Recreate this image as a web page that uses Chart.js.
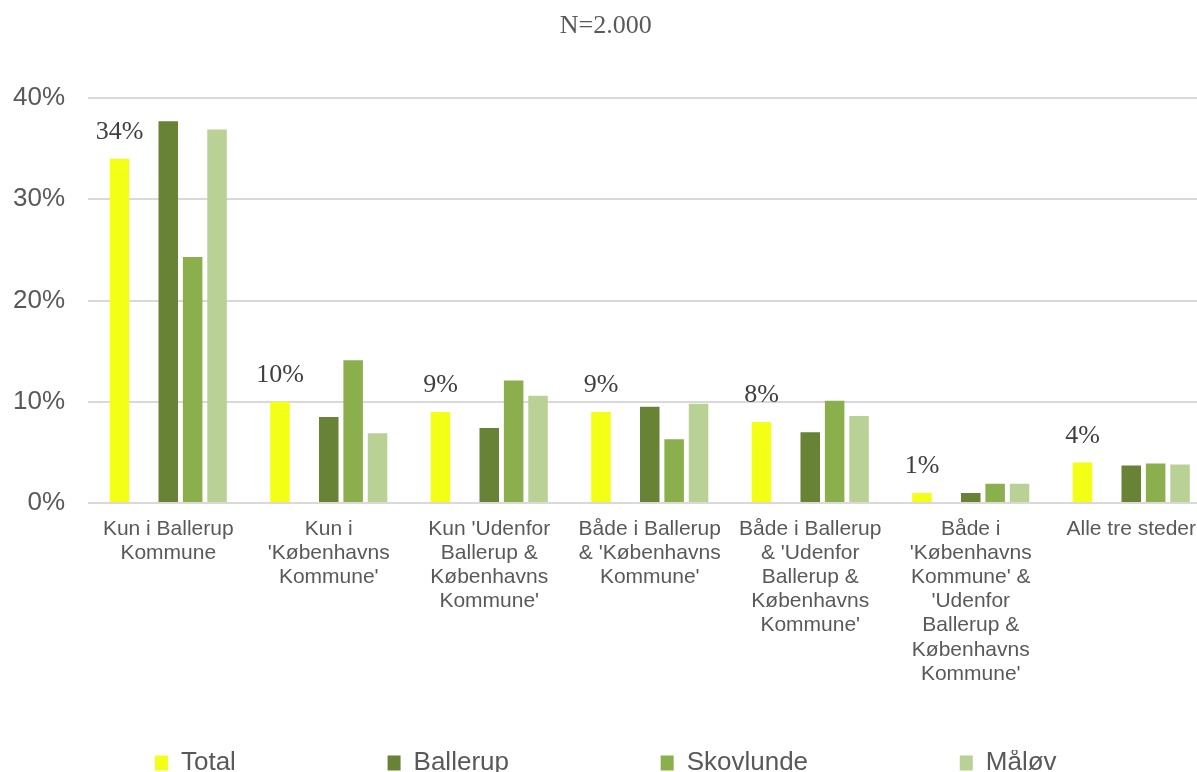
<!DOCTYPE html>
<html>
<head>
<meta charset="utf-8">
<script src="https://cdn.jsdelivr.net/npm/chart.js@4.4.1/dist/chart.umd.min.js"></script>
<style>
  html, body { margin: 0; padding: 0; background: #fff; overflow: hidden; }
  #wrap { width: 1248px; height: 772px; }
</style>
</head>
<body>
<div id="wrap"><canvas id="barChart"></canvas></div>
<script>
// categories (already broken into lines as in the original)
const categories = [
  ['Kun i Ballerup', 'Kommune'],
  ['Kun i', "'Københavns", "Kommune'"],
  ["Kun 'Udenfor", 'Ballerup &', 'Københavns', "Kommune'"],
  ['Både i Ballerup', "& 'Københavns", "Kommune'"],
  ['Både i Ballerup', "& 'Udenfor", 'Ballerup &', 'Københavns', "Kommune'"],
  ['Både i', "'Københavns", "Kommune' &", "'Udenfor", 'Ballerup &', 'Københavns', "Kommune'"],
  ['Alle tre steder']
];
const seriesNames = ['Total', 'Ballerup', 'Skovlunde', 'Måløv'];
const total     = [34, 10, 9, 9, 8, 1, 4];
const ballerup  = [37.7, 8.5, 7.4, 9.5, 7.0, 1.0, 3.7];
const skovlunde = [24.3, 14.1, 12.1, 6.3, 10.1, 1.9, 3.9];
const maalov    = [36.9, 6.9, 10.6, 9.8, 8.6, 1.9, 3.8];
const colors = ['#f3ff14', '#688236', '#8aaf4c', '#b9d194'];

const sans = '"Liberation Sans", Arial, sans-serif';
const serif = '"Liberation Serif", "Times New Roman", serif';

// value labels above the Total bars
const totalLabels = {
  id: 'totalLabels',
  afterDatasetsDraw(chart) {
    const ctx = chart.ctx;
    const meta = chart.getDatasetMeta(0);
    ctx.save();
    ctx.font = '26px ' + serif;
    ctx.fillStyle = '#404040';
    ctx.textAlign = 'center';
    ctx.textBaseline = 'alphabetic';
    meta.data.forEach((bar, i) => {
      ctx.fillText(Math.round(total[i]) + '%', bar.x, bar.y - 20);
    });
    ctx.restore();
  }
};

const bar = (label, data, color) => ({ label, data, backgroundColor: color, borderWidth: 0 });

new Chart(document.getElementById('barChart'), {
  type: 'bar',
  data: {
    labels: categories,
    datasets: [
      bar(seriesNames[0], total, colors[0]),
      bar('', categories.map(() => null), 'rgba(0,0,0,0)'), // empty slot between Total and the rest
      bar(seriesNames[1], ballerup, colors[1]),
      bar(seriesNames[2], skovlunde, colors[2]),
      bar(seriesNames[3], maalov, colors[3])
    ]
  },
  options: {
    responsive: true,
    maintainAspectRatio: false,
    animation: false,
    layout: { padding: { left: 0, right: 36.5, top: 0, bottom: 0 } },
    datasets: { bar: { categoryPercentage: 0.76, barPercentage: 0.8 } },
    plugins: {
      title: {
        display: true,
        text: 'N=2.000',
        color: '#595959',
        font: { family: serif, size: 26, weight: 'normal' },
        padding: { top: 11, bottom: 55.8 }
      },
      legend: {
        position: 'bottom',
        maxHeight: 22,
        labels: {
          color: '#595959',
          font: { family: sans, size: 26 },
          boxWidth: 13,
          boxHeight: 15,
          padding: 0,
          generateLabels(chart) {
            const items = Chart.defaults.plugins.legend.labels.generateLabels(chart)
              .filter(it => it.text !== '');
            items.forEach((it, i) => { if (i < items.length - 1) it.text += ' '.repeat(21); });
            return items;
          }
        }
      },
      tooltip: { enabled: false }
    },
    scales: {
      x: {
        grid: { display: false, drawTicks: false },
        border: { display: false },
        ticks: { color: '#595959', font: { family: sans, size: 21, lineHeight: 1.15 }, padding: 14, maxRotation: 0, autoSkip: false },
        afterFit(scale) { scale.height = 247; }
      },
      y: {
        min: 0,
        max: 40,
        grid: { color: '#d9d9d9', lineWidth: 2, drawTicks: false },
        border: { display: false },
        ticks: {
          stepSize: 10,
          color: '#595959',
          font: { family: sans, size: 26 },
          padding: 23,
          callback: v => v + '%'
        },
        afterFit(scale) { scale.width = 88; }
      }
    }
  },
  plugins: [totalLabels]
});
</script>
</body>
</html>
